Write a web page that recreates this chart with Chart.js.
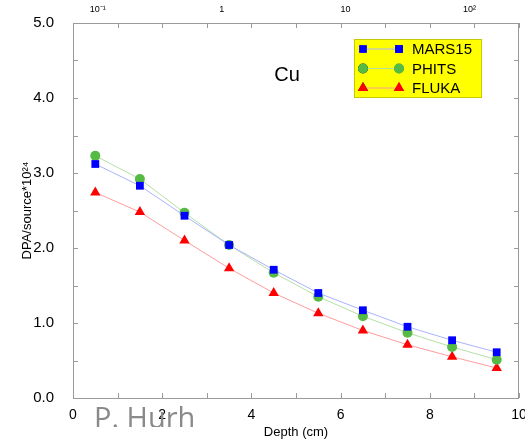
<!DOCTYPE html>
<html>
<head>
<meta charset="utf-8">
<script src="https://cdn.jsdelivr.net/npm/chart.js@4"></script>
<style>
  html, body { margin: 0; padding: 0; background: #fff; }
  canvas { display: block; }
</style>
</head>
<body>
<canvas id="chart" width="525" height="440"></canvas>
<script>
// data
const depth = [0.5, 1.5, 2.5, 3.5, 4.5, 5.5, 6.5, 7.5, 8.5, 9.5];
const mars15 = [3.12, 2.83, 2.43, 2.04, 1.71, 1.40, 1.17, 0.95, 0.77, 0.61];
const phits  = [3.23, 2.92, 2.47, 2.04, 1.67, 1.35, 1.09, 0.87, 0.68, 0.51];
const fluka  = [2.74, 2.48, 2.10, 1.73, 1.40, 1.13, 0.90, 0.71, 0.55, 0.40];
const topTicks = [0.1, 1, 10, 100];
const topLabels = ['10\u207B\u00B9', '1', '10', '10\u00B2'];

const FONT = "'Liberation Sans', Arial, sans-serif";

function pts(ys) {
  return depth.map((x, i) => ({ x: x, y: ys[i] }));
}

// frame with inward tick marks on all four sides
const framePlugin = {
  id: 'frame',
  beforeDatasetsDraw(chart) {
    const { ctx, chartArea: a, scales } = chart;
    ctx.save();
    ctx.strokeStyle = '#9a9a9a';
    ctx.lineWidth = 1;
    ctx.strokeRect(a.left + 0.5, a.top + 0.5, a.right - a.left - 1, a.bottom - a.top);
    ctx.beginPath();
    scales.x.ticks.forEach(t => {
      const px = Math.round(scales.x.getPixelForValue(t.value)) + 0.5;
      ctx.moveTo(px, a.bottom); ctx.lineTo(px, a.bottom - 5);
      ctx.moveTo(px, a.top); ctx.lineTo(px, a.top + 5);
    });
    scales.y.ticks.forEach(t => {
      const py = Math.round(scales.y.getPixelForValue(t.value)) + 0.5;
      ctx.moveTo(a.left, py); ctx.lineTo(a.left + 5, py);
      ctx.moveTo(a.right, py); ctx.lineTo(a.right - 5, py);
    });
    ctx.stroke();
    ctx.restore();
  }
};

// yellow legend box, "Cu" label and the watermark
const notesPlugin = {
  id: 'notes',
  afterDraw(chart) {
    const { ctx } = chart;
    ctx.save();
    ctx.fillStyle = '#000';
    ctx.font = '20px ' + FONT;
    ctx.textAlign = 'center';
    ctx.textBaseline = 'middle';
    ctx.fillText('Cu', 287, 75);

    const bx = 354, by = 39, bw = 127, bh = 58;
    ctx.fillStyle = '#ffff00';
    ctx.fillRect(bx, by, bw, bh);
    ctx.strokeStyle = '#c8c800';
    ctx.lineWidth = 1;
    ctx.strokeRect(bx + 0.5, by + 0.5, bw, bh);

    chart.data.datasets.forEach((ds, i) => {
      const y = by + 10 + i * 19.5;
      ctx.strokeStyle = ds.borderColor;
      ctx.lineWidth = 1;
      ctx.beginPath();
      ctx.moveTo(363, y); ctx.lineTo(399, y);
      ctx.stroke();
      [363, 399].forEach(x => {
        Chart.helpers.drawPoint(ctx, {
          pointStyle: ds.pointStyle, radius: ds.pointRadius, rotation: 0, borderWidth: 0
        }, x, y);
        ctx.fillStyle = ds.pointBackgroundColor;
        ctx.fill();
      });
      ctx.fillStyle = '#000';
      ctx.font = '15px ' + FONT;
      ctx.textAlign = 'left';
      ctx.fillText(ds.label, 412, y + 1);
    });

    ctx.beginPath();
    ctx.rect(0, 0, 525, 427);
    ctx.clip();
    ctx.fillStyle = '#8a8a8a';
    ctx.font = "29px 'Open Sans', sans-serif";
    ctx.textAlign = 'left';
    ctx.textBaseline = 'alphabetic';
    ctx.fillText('P. Hurh', 94, 428);
    ctx.restore();
  }
};

new Chart(document.getElementById('chart'), {
  type: 'line',
  data: {
    datasets: [
      {
        label: 'MARS15', data: pts(mars15),
        borderColor: '#aab2ff', borderWidth: 1,
        pointStyle: 'rect', pointRadius: 5.5,
        pointBackgroundColor: '#0000ff', pointBorderWidth: 0
      },
      {
        label: 'PHITS', data: pts(phits),
        borderColor: '#b4e0a4', borderWidth: 1,
        pointStyle: 'circle', pointRadius: 5,
        pointBackgroundColor: '#55bb44', pointBorderWidth: 0
      },
      {
        label: 'FLUKA', data: pts(fluka),
        borderColor: '#ff9c9c', borderWidth: 1,
        pointStyle: 'triangle', pointRadius: 6,
        pointBackgroundColor: '#ff0000', pointBorderWidth: 0
      }
    ]
  },
  options: {
    responsive: false,
    animation: false,
    layout: { padding: { left: 0, right: 3, top: 0, bottom: 0 } },
    plugins: { legend: { display: false }, tooltip: { enabled: false } },
    scales: {
      x: {
        type: 'linear', position: 'bottom', min: 0, max: 10,
        grid: { display: false },
        border: { display: false },
        ticks: {
          stepSize: 1, padding: 1, color: '#000', maxRotation: 0,
          font: { family: FONT, size: 14 },
          callback: v => (v % 2 === 0 ? v : '')
        },
        title: {
          display: true, text: 'Depth (cm)', color: '#000',
          font: { family: FONT, size: 13 }, padding: { top: 0, bottom: 0 }
        },
        afterFit(s) { s.height = 42; s.paddingLeft = 0; s.paddingRight = 0; }
      },
      xTop: {
        type: 'logarithmic', position: 'top',
        min: Math.pow(10, -1.2), max: Math.pow(10, 2.4),
        grid: { display: false },
        border: { display: false },
        afterBuildTicks(s) { s.ticks = topTicks.map(v => ({ value: v })); },
        ticks: {
          padding: 0, color: '#000', maxRotation: 0, autoSkip: false,
          font: { family: FONT, size: 9 },
          callback: (v) => topLabels[topTicks.indexOf(v)]
        },
        afterFit(s) { s.height = 23; s.paddingLeft = 0; s.paddingRight = 0; }
      },
      y: {
        min: 0, max: 5,
        grid: { display: false },
        border: { display: false },
        ticks: {
          stepSize: 0.5, padding: 11, color: '#000',
          font: { family: FONT, size: 15 },
          callback: v => (Number.isInteger(v) ? v.toFixed(1) : '')
        },
        title: {
          display: true, text: 'DPA/source*10\u00B2\u2074', color: '#000',
          font: { family: FONT, size: 13 }, padding: { top: 20, bottom: 0 }
        },
        afterFit(s) { s.width = 73; s.paddingTop = 0; s.paddingBottom = 0; }
      }
    }
  },
  plugins: [framePlugin, notesPlugin]
});
</script>
</body>
</html>
